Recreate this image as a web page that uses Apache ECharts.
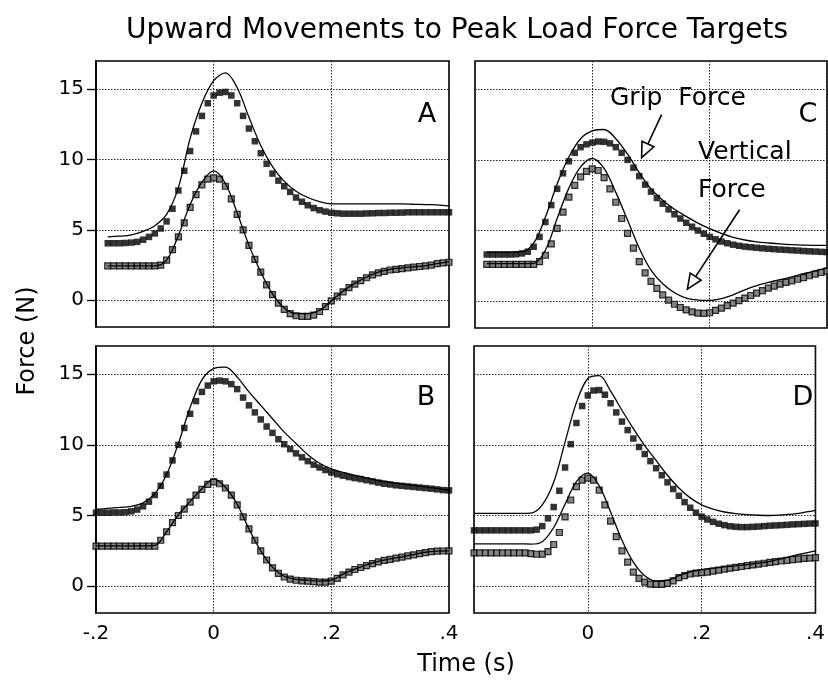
<!DOCTYPE html>
<html><head><meta charset="utf-8">
<script src="https://cdn.jsdelivr.net/npm/echarts@6/dist/echarts.min.js"></script>
<style>html,body{margin:0;padding:0;background:#fff}#c{width:828px;height:684px}</style>
</head><body><div id="c"></div><script>
// ---- data ----
const time = [-0.2,-0.19,-0.18,-0.17,-0.16,-0.15,-0.14,-0.13,-0.12,-0.11,-0.1,-0.09,-0.08,-0.07,-0.06,-0.05,-0.04,-0.03,-0.02,-0.01,0,0.01,0.02,0.03,0.04,0.05,0.06,0.07,0.08,0.09,0.1,0.11,0.12,0.13,0.14,0.15,0.16,0.17,0.18,0.19,0.2,0.21,0.22,0.23,0.24,0.25,0.26,0.27,0.28,0.29,0.3,0.31,0.32,0.33,0.34,0.35,0.36,0.37,0.38,0.39,0.4];
const timeCoarse = [-0.2,-0.18,-0.16,-0.14,-0.12,-0.1,-0.08,-0.06,-0.04,-0.02,0,0.02,0.04,0.06,0.08,0.1,0.12,0.14,0.16,0.18,0.2,0.22,0.24,0.26,0.28,0.3,0.32,0.34,0.36,0.38,0.4];

// Panel A
const gripSquaresA = [null,null,4.05,4.05,4.05,4.07,4.1,4.15,4.3,4.5,4.75,5.1,5.6,6.5,7.8,9.2,10.6,12.0,13.1,14.0,14.55,14.75,14.8,14.55,14.0,13.1,12.2,11.3,10.45,9.7,9.0,8.5,8.1,7.7,7.3,7.0,6.75,6.55,6.4,6.3,6.22,6.18,6.15,6.15,6.15,6.15,6.17,6.18,6.2,6.2,6.22,6.22,6.23,6.25,6.25,6.25,6.25,6.25,6.25,6.25,6.25];
const gripLineA = [null,4.5,4.55,4.65,4.9,5.3,6.1,8.0,11.5,14.0,15.6,16.15,15.1,13.0,11.0,9.5,8.45,7.75,7.3,7.0,6.85,6.85,6.85,6.85,6.85,6.85,6.85,6.82,6.8,6.78,6.7];
const vertSquaresA = [null,null,2.45,2.45,2.45,2.45,2.45,2.45,2.45,2.45,2.45,2.5,2.85,3.6,4.5,5.5,6.6,7.5,8.2,8.6,8.7,8.6,8.1,7.2,6.1,5.0,3.9,2.9,2.0,1.1,0.4,-0.2,-0.65,-0.95,-1.1,-1.15,-1.15,-1.05,-0.8,-0.45,-0.05,0.3,0.6,0.9,1.15,1.4,1.6,1.8,1.95,2.05,2.15,2.2,2.25,2.3,2.35,2.4,2.45,2.5,2.6,2.65,2.7];
const vertLineA = [null,2.45,2.45,2.45,2.45,2.45,2.85,4.6,6.8,8.4,9.2,8.3,6.2,3.9,2.0,0.45,-0.55,-0.95,-0.95,-0.7,-0.05,0.65,1.2,1.65,2.0,2.2,2.3,2.38,2.45,2.6,2.75];

// Panel B
const gripSquaresB = [5.2,5.2,5.2,5.22,5.22,5.24,5.3,5.42,5.65,5.98,6.45,7.1,7.9,8.9,10.0,11.2,12.2,13.1,13.75,14.2,14.5,14.55,14.5,14.3,13.95,13.35,12.8,12.3,11.8,11.3,10.85,10.4,10.05,9.7,9.4,9.12,8.85,8.6,8.4,8.22,8.05,7.92,7.82,7.72,7.65,7.58,7.5,7.42,7.33,7.25,7.2,7.14,7.1,7.06,7.02,6.98,6.94,6.9,6.85,6.8,6.78];
const gripLineB = [5.43,5.5,5.57,5.65,5.9,6.55,7.9,10.1,12.65,14.6,15.4,15.5,14.8,13.75,12.8,11.85,10.9,10.1,9.3,8.7,8.3,8.05,7.85,7.65,7.48,7.35,7.24,7.14,7.03,6.92,6.8];
const vertSquaresB = [2.83,2.83,2.83,2.83,2.83,2.83,2.83,2.83,2.83,2.83,2.83,3.25,3.85,4.5,5.0,5.45,5.95,6.45,6.85,7.2,7.38,7.25,6.95,6.45,5.75,4.9,4.05,3.25,2.5,1.85,1.3,0.9,0.65,0.5,0.42,0.38,0.35,0.32,0.28,0.28,0.35,0.55,0.8,1.0,1.18,1.32,1.46,1.6,1.72,1.82,1.9,1.98,2.06,2.14,2.22,2.3,2.38,2.44,2.48,2.49,2.5];
const vertLineB = [2.85,2.85,2.85,2.85,2.85,2.88,3.85,5.05,6.0,6.9,7.6,7.0,5.8,4.05,2.5,1.35,0.7,0.48,0.42,0.36,0.42,0.85,1.2,1.5,1.75,1.93,2.08,2.24,2.4,2.48,2.5];

// Panel C
const gripSquaresC = [null,null,3.3,3.3,3.3,3.3,3.3,3.32,3.38,3.5,3.85,4.55,5.6,6.8,7.95,9.05,9.9,10.5,10.9,11.1,11.22,11.3,11.28,11.17,10.9,10.5,10.0,9.45,8.85,8.25,7.75,7.3,6.9,6.5,6.15,5.85,5.55,5.27,5.0,4.77,4.55,4.38,4.22,4.1,4.0,3.92,3.86,3.82,3.78,3.74,3.71,3.68,3.65,3.63,3.6,3.58,3.55,3.53,3.51,3.49,3.47];
const gripLineC = [null,3.47,3.47,3.47,3.5,4.1,5.95,8.3,10.2,11.5,12.05,12.15,11.5,10.4,9.1,7.95,7.15,6.5,6.0,5.52,5.13,4.8,4.52,4.33,4.2,4.12,4.05,4.0,3.97,3.95,3.95];
const vertSquaresC = [null,null,2.6,2.6,2.6,2.6,2.6,2.6,2.6,2.6,2.6,2.8,3.25,4.05,5.15,6.3,7.37,8.2,8.8,9.18,9.36,9.25,8.75,7.95,7.0,5.85,4.8,3.75,2.8,2.0,1.4,0.9,0.45,0.07,-0.22,-0.45,-0.62,-0.76,-0.84,-0.86,-0.82,-0.65,-0.5,-0.32,-0.14,0.04,0.22,0.4,0.57,0.75,0.92,1.06,1.2,1.33,1.44,1.55,1.67,1.8,1.92,2.03,2.13];
const vertLineC = [null,2.65,2.65,2.65,2.65,2.68,3.6,5.85,8.0,9.5,10.1,9.4,7.7,5.75,3.75,2.2,1.23,0.6,0.22,0.08,0.05,0.18,0.45,0.8,1.1,1.33,1.52,1.72,1.94,2.15,2.36];

// Panel D
const gripSquaresD = [3.95,3.95,3.95,3.95,3.95,3.95,3.95,3.95,3.95,3.95,3.95,4.0,4.25,4.8,5.6,6.75,8.4,10.05,11.55,12.75,13.5,13.85,13.88,13.55,12.95,12.3,11.65,11.05,10.45,9.85,9.35,8.85,8.35,7.85,7.35,6.88,6.4,5.95,5.55,5.2,4.92,4.72,4.55,4.42,4.32,4.24,4.2,4.18,4.18,4.2,4.22,4.25,4.28,4.3,4.32,4.34,4.37,4.39,4.41,4.43,4.44];
const gripLineD = [5.15,5.15,5.15,5.15,5.15,5.17,5.75,7.35,10.2,13.0,14.7,14.9,13.8,12.45,11.15,9.95,8.9,7.85,6.95,6.25,5.75,5.45,5.25,5.13,5.06,5.02,5.0,5.04,5.1,5.22,5.36];
const vertSquaresD = [2.35,2.35,2.35,2.35,2.35,2.35,2.35,2.35,2.35,2.35,2.3,2.26,2.27,2.45,2.95,3.8,4.9,6.1,7.05,7.5,7.65,7.5,6.8,5.75,4.6,3.5,2.5,1.7,1.0,0.55,0.28,0.15,0.12,0.13,0.2,0.38,0.6,0.75,0.86,0.92,0.96,1.0,1.06,1.13,1.2,1.27,1.33,1.39,1.45,1.5,1.56,1.62,1.68,1.73,1.78,1.83,1.88,1.92,1.96,1.99,2.02];
const vertLineD = [3.0,3.0,3.0,3.0,3.0,2.98,3.15,4.15,5.8,7.4,8.0,7.1,5.25,3.25,1.7,0.74,0.38,0.42,0.74,1.02,1.17,1.28,1.36,1.44,1.53,1.63,1.76,1.94,2.14,2.32,2.5];

const yTicks = [0, 5, 10, 15];
const panelLetters = ['A', 'C', 'B', 'D'];
const titleText = 'Upward Movements to Peak Load Force Targets';
const yTitle = 'Force (N)';
const xTitle = 'Time (s)';
// annotation arrows in panel C data coordinates: [start, tip]
const gripArrow = [[0.118, 13.2], [0.084, 10.16]];
const vertArrow = [[0.251, 6.47], [0.162, 0.85]];

// ---- chart ----
const FONT = 'DejaVu Sans';
const chart = echarts.init(document.getElementById('c'), null, {renderer: 'canvas'});
const grids = [
  {left: 96, top: 61, width: 353, height: 266},
  {left: 475, top: 61, width: 352, height: 267},
  {left: 96, top: 346, width: 353, height: 267},
  {left: 474, top: 346, width: 353, height: 267}
];
const panels = [
  [gripSquaresA, gripLineA, vertSquaresA, vertLineA],
  [gripSquaresC, gripLineC, vertSquaresC, vertLineC],
  [gripSquaresB, gripLineB, vertSquaresB, vertLineB],
  [gripSquaresD, gripLineD, vertSquaresD, vertLineD]
];
const pair = (xs, ys) => xs.map((x, i) => [x, ys[i]]);
const fmtX = v => { if (Math.abs(v) < 1e-9) return '0'; const s = String(Math.abs(+v.toFixed(2))).replace(/^0/, ''); return (v < 0 ? '-' : '') + s; };
const split = {show: true, lineStyle: {color: '#222', width: 1, type: [1.5, 1.5]}};

const xAxis = grids.map((g, i) => ({
  type: 'value', gridIndex: i, min: -0.2, max: 0.4, interval: 0.2,
  axisLine: {show: false, onZero: false}, axisTick: {show: false},
  axisLabel: {show: i >= 2, formatter: fmtX, fontFamily: FONT, fontSize: 20, color: '#000', margin: 11, showMinLabel: i === 2},
  splitLine: split
}));
const yAxis = grids.map((g, i) => ({
  type: 'value', gridIndex: i, min: -1.9, max: 17, splitNumber: 4, position: 'left',
  axisLine: {show: i % 2 === 0, onZero: false, lineStyle: {color: '#000', width: 1.6}},
  axisTick: {show: i % 2 === 0, inside: false, length: 9, customValues: yTicks, lineStyle: {color: '#000', width: 1.3}},
  axisLabel: {show: i % 2 === 0, customValues: yTicks, fontFamily: FONT, fontSize: 20, color: '#000', margin: 12},
  splitLine: split
}));

const series = [];
panels.forEach((p, i) => {
  series.push({type: 'scatter', xAxisIndex: i, yAxisIndex: i, data: pair(time, p[0]), symbol: 'rect', symbolSize: 6.5, itemStyle: {color: '#000'}, silent: true, z: 2});
  series.push({type: 'scatter', xAxisIndex: i, yAxisIndex: i, data: pair(time, p[2]), symbol: 'rect', symbolSize: 6, itemStyle: {color: '#666', borderColor: '#000', borderWidth: 1.2}, silent: true, z: 2});
  series.push({type: 'line', xAxisIndex: i, yAxisIndex: i, data: pair(timeCoarse, p[1]), smooth: 0.35, showSymbol: false, lineStyle: {color: '#000', width: 1.3}, silent: true, z: 3});
  series.push({type: 'line', xAxisIndex: i, yAxisIndex: i, data: pair(timeCoarse, p[3]), smooth: 0.35, showSymbol: false, lineStyle: {color: '#000', width: 1.3}, silent: true, z: 3});
});

chart.setOption({
  animation: false,
  backgroundColor: '#fff',
  grid: grids.map(g => Object.assign({show: true, borderColor: '#000', borderWidth: 1.6, backgroundColor: 'transparent', containLabel: false}, g)),
  xAxis, yAxis, series
});

function arrowEls(pts) {
  const a = chart.convertToPixel({gridIndex: 1}, pts[0]);
  const b = chart.convertToPixel({gridIndex: 1}, pts[1]);
  const dx = b[0] - a[0], dy = b[1] - a[1], L = Math.hypot(dx, dy), ux = dx / L, uy = dy / L;
  const hl = 15, hw = 6.5;
  const base = [b[0] - ux * hl, b[1] - uy * hl];
  const nx = -uy, ny = ux;
  return [
    {type: 'line', z: 100, shape: {x1: a[0], y1: a[1], x2: base[0], y2: base[1]}, style: {stroke: '#000', lineWidth: 1.6}},
    {type: 'polygon', z: 100, shape: {points: [b, [base[0] + nx * hw, base[1] + ny * hw], [base[0] - nx * hw, base[1] - ny * hw]]}, style: {fill: '#fff', stroke: '#000', lineWidth: 1.6}}
  ];
}
const letterPos = [[427, 115], [808, 115], [426, 398], [803, 398]];
const txt = (text, x, y, size) => ({type: 'text', z: 100, x, y, style: {text, fontFamily: FONT, fontSize: size, fill: '#000', textAlign: 'center', textVerticalAlign: 'middle'}});
const yTitleEl = txt(yTitle, 28, 341, 24);
yTitleEl.rotation = Math.PI / 2;
const graphics = [
  txt(titleText, 457, 31, 28),
  txt(xTitle, 466, 665, 24),
  yTitleEl,
  ...panelLetters.map((l, i) => txt(l, letterPos[i][0], letterPos[i][1], 27)),
  txt('Grip  Force', 678, 98, 25),
  {type: 'text', z: 100, x: 698, y: 133, style: {text: 'Vertical\nForce', fontFamily: FONT, fontSize: 25, fill: '#000', textAlign: 'left', textVerticalAlign: 'top', lineHeight: 38}},
  ...arrowEls(gripArrow),
  ...arrowEls(vertArrow)
];
chart.setOption({graphic: graphics});
</script></body></html>
